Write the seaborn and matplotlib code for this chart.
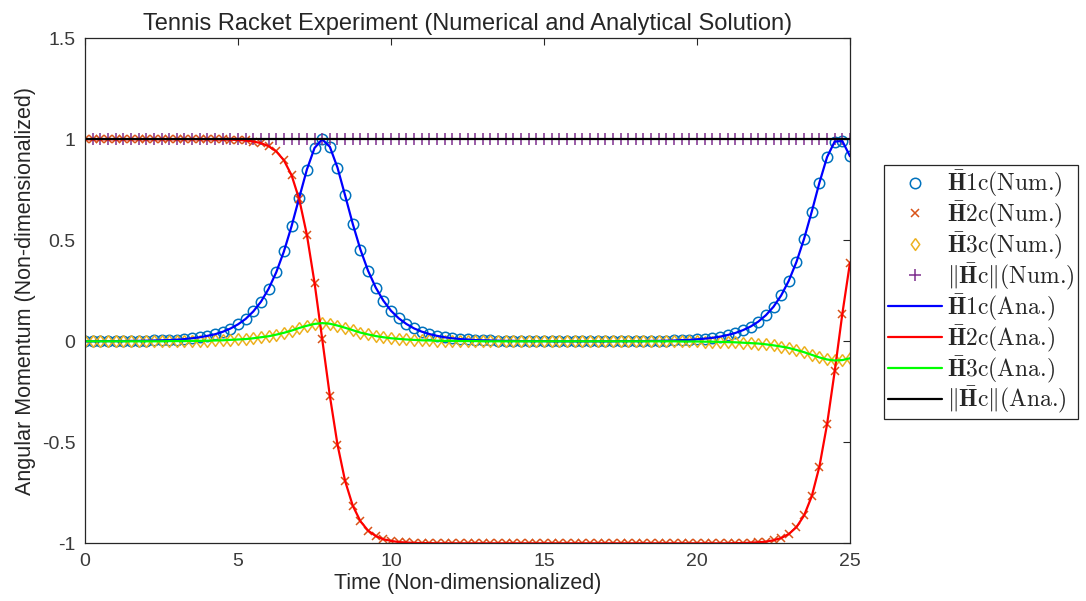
import numpy as np
import pandas as pd
import matplotlib
matplotlib.use("Agg")
import matplotlib.pyplot as plt
import seaborn as sns

# ---------------- data ----------------
time = np.linspace(0, 25, 101)

h1c = [
    0.000, 0.000, 0.001, 0.001,
    0.001, 0.001, 0.002, 0.002,
    0.003, 0.004, 0.005, 0.006,
    0.008, 0.011, 0.015, 0.020,
    0.027, 0.035, 0.047, 0.063,
    0.084, 0.111, 0.148, 0.196,
    0.260, 0.342, 0.445, 0.570,
    0.711, 0.850, 0.957, 1.000,
    0.963, 0.860, 0.722, 0.581,
    0.454, 0.349, 0.266, 0.201,
    0.151, 0.114, 0.086, 0.064,
    0.048, 0.036, 0.027, 0.020,
    0.015, 0.011, 0.009, 0.006,
    0.005, 0.004, 0.003, 0.002,
    0.002, 0.001, 0.001, 0.001,
    0.001, 0.000, 0.000, 0.000,
    0.000, 0.000, 0.000, 0.000,
    0.000, 0.000, 0.001, 0.001,
    0.001, 0.001, 0.002, 0.002,
    0.003, 0.004, 0.006, 0.007,
    0.010, 0.013, 0.017, 0.023,
    0.031, 0.041, 0.055, 0.073,
    0.097, 0.129, 0.171, 0.227,
    0.300, 0.393, 0.508, 0.642,
    0.785, 0.912, 0.989, 0.991,
    0.916,
]

h2c = [
    1.000, 1.000, 1.000, 1.000,
    1.000, 1.000, 1.000, 1.000,
    1.000, 1.000, 1.000, 1.000,
    1.000, 1.000, 1.000, 1.000,
    1.000, 0.999, 0.999, 0.998,
    0.997, 0.994, 0.989, 0.981,
    0.966, 0.940, 0.896, 0.822,
    0.703, 0.527, 0.290, 0.012,
    -0.269, -0.511, -0.692, -0.814,
    -0.891, -0.937, -0.964, -0.980,
    -0.988, -0.994, -0.996, -0.998,
    -0.999, -0.999, -1.000, -1.000,
    -1.000, -1.000, -1.000, -1.000,
    -1.000, -1.000, -1.000, -1.000,
    -1.000, -1.000, -1.000, -1.000,
    -1.000, -1.000, -1.000, -1.000,
    -1.000, -1.000, -1.000, -1.000,
    -1.000, -1.000, -1.000, -1.000,
    -1.000, -1.000, -1.000, -1.000,
    -1.000, -1.000, -1.000, -1.000,
    -1.000, -1.000, -1.000, -1.000,
    -1.000, -0.999, -0.999, -0.997,
    -0.995, -0.992, -0.985, -0.974,
    -0.954, -0.920, -0.862, -0.767,
    -0.620, -0.411, -0.148, 0.137,
    0.390,
]

h3c = [
    0.000, 0.000, 0.000, 0.000,
    0.000, 0.000, 0.000, 0.000,
    0.000, 0.000, 0.000, 0.001,
    0.001, 0.001, 0.002, 0.002,
    0.003, 0.004, 0.005, 0.007,
    0.009, 0.011, 0.015, 0.020,
    0.025, 0.033, 0.042, 0.053,
    0.066, 0.077, 0.086, 0.090,
    0.087, 0.078, 0.067, 0.055,
    0.043, 0.034, 0.026, 0.020,
    0.015, 0.012, 0.009, 0.007,
    0.005, 0.004, 0.003, 0.002,
    0.002, 0.001, 0.001, 0.001,
    0.000, 0.000, 0.000, 0.000,
    0.000, 0.000, 0.000, 0.000,
    0.000, 0.000, 0.000, 0.000,
    0.000, 0.000, 0.000, 0.000,
    0.000, 0.000, 0.000, 0.000,
    0.000, 0.000, 0.000, 0.000,
    0.000, 0.000, -0.001, -0.001,
    -0.001, -0.002, -0.002, -0.003,
    -0.004, -0.005, -0.007, -0.009,
    -0.011, -0.015, -0.020, -0.026,
    -0.033, -0.043, -0.054, -0.067,
    -0.080, -0.090, -0.095, -0.093,
    -0.084,
]

hc_norm = [
    1.0, 1.0, 1.0, 1.0, 1.0, 1.0, 1.0, 1.0, 1.0, 1.0,
    1.0, 1.0, 1.0, 1.0, 1.0, 1.0, 1.0, 1.0, 1.0, 1.0,
    1.0, 1.0, 1.0, 1.0, 1.0, 1.0, 1.0, 1.0, 1.0, 1.0,
    1.0, 1.0, 1.0, 1.0, 1.0, 1.0, 1.0, 1.0, 1.0, 1.0,
    1.0, 1.0, 1.0, 1.0, 1.0, 1.0, 1.0, 1.0, 1.0, 1.0,
    1.0, 1.0, 1.0, 1.0, 1.0, 1.0, 1.0, 1.0, 1.0, 1.0,
    1.0, 1.0, 1.0, 1.0, 1.0, 1.0, 1.0, 1.0, 1.0, 1.0,
    1.0, 1.0, 1.0, 1.0, 1.0, 1.0, 1.0, 1.0, 1.0, 1.0,
    1.0, 1.0, 1.0, 1.0, 1.0, 1.0, 1.0, 1.0, 1.0, 1.0,
    1.0, 1.0, 1.0, 1.0, 1.0, 1.0, 1.0, 1.0, 1.0, 1.0,
    1.0,
]

x_ticks = [0, 5, 10, 15, 20, 25]
y_ticks = [-1, -0.5, 0, 0.5, 1, 1.5]
y_tick_labels = ["-1", "-0.5", "0", "0.5", "1", "1.5"]

labels_num = [r"$\bar{\mathbf{H}}$1c(Num.)",
              r"$\bar{\mathbf{H}}$2c(Num.)",
              r"$\bar{\mathbf{H}}$3c(Num.)",
              r"$\Vert\bar{\mathbf{H}}$c$\Vert$(Num.)"]
labels_ana = [r"$\bar{\mathbf{H}}$1c(Ana.)",
              r"$\bar{\mathbf{H}}$2c(Ana.)",
              r"$\bar{\mathbf{H}}$3c(Ana.)",
              r"$\Vert\bar{\mathbf{H}}$c$\Vert$(Ana.)"]

title = "Tennis Racket Experiment (Numerical and Analytical Solution)"
xlabel = "Time (Non-dimensionalized)"
ylabel = "Angular Momentum (Non-dimensionalized)"

# ---------------- build table ----------------
df = pd.DataFrame({"t": time, "h1": h1c, "h2": h2c, "h3": h3c, "hn": hc_norm})

# ---------------- style ----------------
sns.set_style("white")
plt.rcParams["font.family"] = ["Liberation Sans", "DejaVu Sans"]
plt.rcParams["mathtext.fontset"] = "cm"
txt = "#262626"
tick_txt = "#3a3a3a"

fig = plt.figure(figsize=(10.86, 6.01), dpi=100)
ax = fig.add_axes([0.0783, 0.096, 0.7044, 0.8403])

diamond = [(0, 1), (0.72, 0), (0, -1), (-0.72, 0), (0, 1)]
num_cols = ["#0072BD", "#D95319", "#EDB120", "#7E2F8E"]
num_markers = ["o", "x", diamond, "+"]
num_sizes = [7.5, 6, 8.5, 8]
ana_cols = ["#0000FF", "#FF0000", "#00FF00", "#000000"]
series = ["h1", "h2", "h3", "hn"]

for s, c, m, ms, lab in zip(series, num_cols, num_markers, num_sizes, labels_num):
    sns.lineplot(data=df, x="t", y=s, ax=ax, linestyle="", marker=m,
                 markersize=ms, markerfacecolor="none", markeredgecolor=c,
                 markeredgewidth=1.1, color=c, label=lab, legend=False,
                 errorbar=None)

for s, c, lab in zip(series, ana_cols, labels_ana):
    sns.lineplot(data=df, x="t", y=s, ax=ax, color=c, linewidth=1.6,
                 label=lab, legend=False, errorbar=None)

ax.set_xlim(0, 25)
ax.set_ylim(-1, 1.5)
ax.set_xticks(x_ticks)
ax.set_xticklabels([str(v) for v in x_ticks])
ax.set_yticks(y_ticks)
ax.set_yticklabels(y_tick_labels)
ax.tick_params(direction="in", top=True, right=True, length=5, width=0.8,
               labelsize=14, color=txt, labelcolor=tick_txt, pad=7)
for sp in ax.spines.values():
    sp.set_color(txt)
    sp.set_linewidth(0.9)

ax.set_title(title, fontsize=17, color=txt, pad=6)
ax.set_xlabel(xlabel, fontsize=15.5, color=txt, labelpad=2)
ax.set_ylabel(ylabel, fontsize=15.5, color=txt, labelpad=4)

handles, labels = ax.get_legend_handles_labels()
leg = fig.legend(handles, labels, loc="upper left",
                 bbox_to_anchor=(884 / 1086, 1 - 165 / 601),
                 prop={"family": "cmr10", "size": 17}, frameon=True,
                 fancybox=False, edgecolor=txt, framealpha=1, borderpad=0.15,
                 handlelength=2.3, handletextpad=0.2, labelspacing=0.0,
                 borderaxespad=0, numpoints=1)
leg.get_frame().set_linewidth(0.9)

fig.savefig("out.png", dpi=100)
